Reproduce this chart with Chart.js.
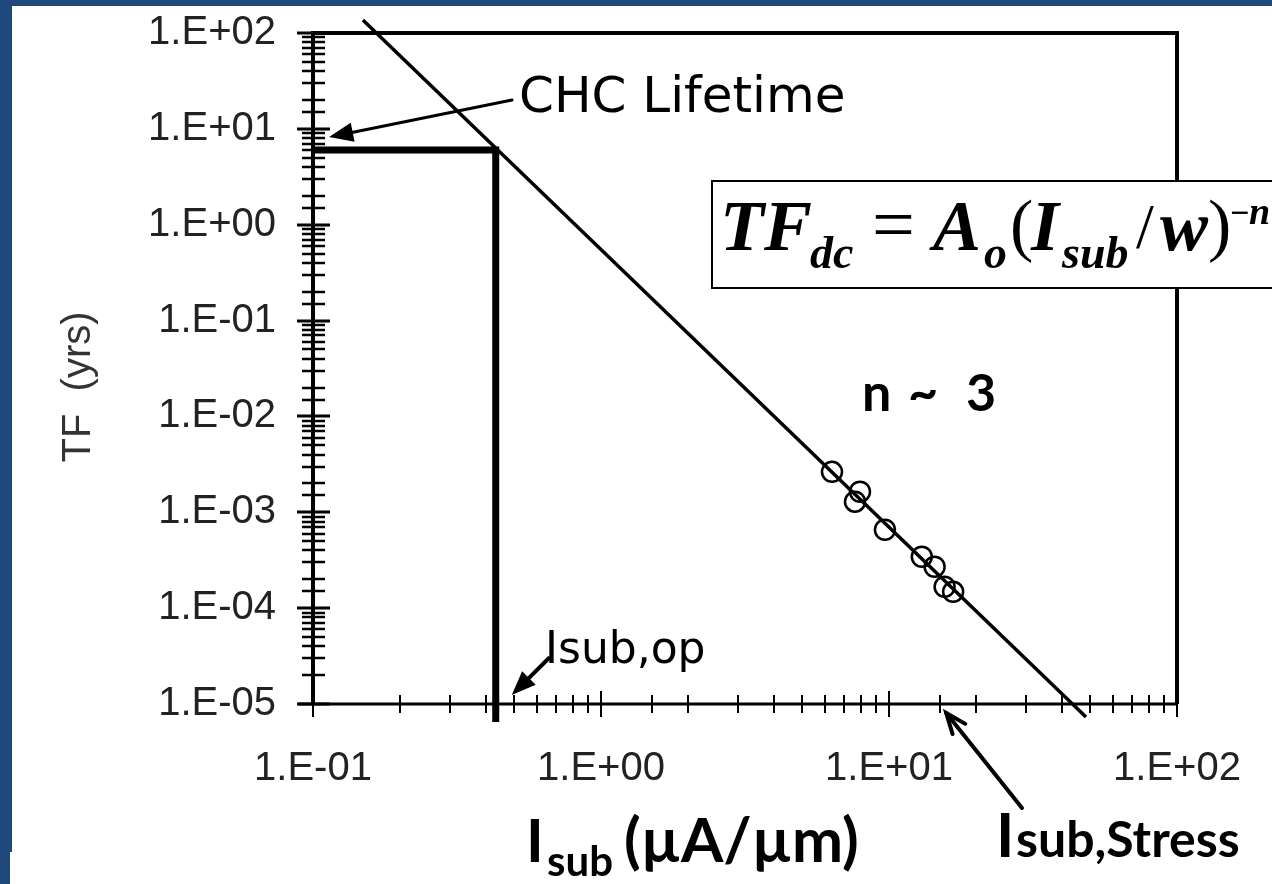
<!DOCTYPE html>
<html>
<head>
<meta charset="utf-8">
<script src="https://cdn.jsdelivr.net/npm/chart.js@4.4.1/dist/chart.umd.min.js"></script>
<style>
	html, body { margin: 0; padding: 0; background: #fff; }
	canvas { display: block; }
</style>
</head>
<body>
<canvas id="myChart" width="1272" height="884"></canvas>
<script>
// measured stress points: substrate current (uA/um) vs time to failure (yrs)
const stressCurrent = [6.34, 7.93, 7.62, 9.68, 13.0, 14.4, 15.6, 16.7];
const stressLifetime = [2.64e-3, 1.64e-3, 1.29e-3, 6.57e-4, 3.44e-4, 2.70e-4, 1.67e-4, 1.48e-4];

// power law fit, drawn past the frame on both ends
const fitCurrent = [0.149, 48.3];
const fitLifetime = [137, 7.3e-6];

// operating point read back from the fit
const opCurrent = [0.1, 0.431, 0.431];
const opLifetime = [6.03, 6.03, 6.5e-6];

const xRange = [0.1, 100];
const yRange = [1e-5, 100];

const isDecade = v => Math.abs(Math.log10(v) - Math.round(Math.log10(v))) < 1e-6;
const sciLabel = v => {
	const e = Math.round(Math.log10(v));
	return '1.E' + (e < 0 ? '-' : '+') + String(Math.abs(e)).padStart(2, '0');
};

const BLUE = '#1f497d';

const arrow = (ctx, x1, y1, x2, y2, w, head, open) => {
	const a = Math.atan2(y2 - y1, x2 - x1);
	ctx.save();
	ctx.strokeStyle = '#000';
	ctx.fillStyle = '#000';
	ctx.lineWidth = w;
	ctx.lineCap = 'round';
	ctx.beginPath();
	ctx.moveTo(x1, y1);
	ctx.lineTo(open ? x2 : x2 - Math.cos(a) * head * 0.8, open ? y2 : y2 - Math.sin(a) * head * 0.8);
	ctx.stroke();
	const hx1 = x2 - Math.cos(a - 0.38) * head, hy1 = y2 - Math.sin(a - 0.38) * head;
	const hx2 = x2 - Math.cos(a + 0.38) * head, hy2 = y2 - Math.sin(a + 0.38) * head;
	ctx.beginPath();
	if (open) {
		ctx.moveTo(hx1, hy1);
		ctx.lineTo(x2, y2);
		ctx.lineTo(hx2, hy2);
		ctx.stroke();
	} else {
		ctx.moveTo(x2, y2);
		ctx.lineTo(hx1, hy1);
		ctx.lineTo(hx2, hy2);
		ctx.closePath();
		ctx.fill();
	}
	ctx.restore();
};

// text pieces, each at its own x and baseline
const pieces = (ctx, parts) => {
	parts.forEach(p => {
		ctx.font = p.font;
		ctx.fillText(p.t, p.x, p.y);
	});
};

const framePlugin = {
	id: 'frame',
	beforeDraw(chart) {
		const ctx = chart.ctx;
		ctx.save();
		ctx.fillStyle = '#fff';
		ctx.fillRect(0, 0, chart.width, chart.height);
		ctx.fillStyle = BLUE;
		ctx.fillRect(0, 0, chart.width, 6);
		ctx.fillRect(0, 0, 12, 852);
		ctx.fillRect(0, 852, 10, chart.height - 852);
		ctx.restore();
	},
	afterDatasetsDraw(chart) {
		const ctx = chart.ctx;
		const { left, right, top, bottom } = chart.chartArea;
		const xs = chart.scales.x, ys = chart.scales.y;
		ctx.save();
		ctx.strokeStyle = '#000';
		// plot frame
		ctx.lineWidth = 4;
		ctx.beginPath();
		ctx.moveTo(left, bottom);
		ctx.lineTo(left, top);
		ctx.lineTo(right, top);
		ctx.lineTo(right, bottom);
		ctx.stroke();
		ctx.lineWidth = 3;
		ctx.beginPath();
		ctx.moveTo(left - 15, bottom);
		ctx.lineTo(right, bottom);
		ctx.stroke();

		// tick marks crossing the axes
		ys.ticks.forEach(t => {
			const y = Math.round(ys.getPixelForValue(t.value));
			const big = isDecade(t.value);
			ctx.lineWidth = big ? 3 : 2.5;
			ctx.beginPath();
			ctx.moveTo(left - (big ? 16 : 11), y);
			ctx.lineTo(left + (big ? 17 : 12), y);
			ctx.stroke();
		});
		xs.ticks.forEach(t => {
			const x = Math.round(xs.getPixelForValue(t.value));
			const big = isDecade(t.value);
			ctx.lineWidth = 2;
			ctx.beginPath();
			ctx.moveTo(x, bottom - (big ? 13 : 9));
			ctx.lineTo(x, bottom + (big ? 13 : 9));
			ctx.stroke();
		});
		ctx.restore();
	},
	afterDraw(chart) {
		const ctx = chart.ctx;
		const { bottom, left } = chart.chartArea;
		const xs = chart.scales.x, ys = chart.scales.y;
		ctx.save();
		ctx.textBaseline = 'alphabetic';

		// y axis title
		ctx.save();
		ctx.translate(79, 387);
		ctx.rotate(-Math.PI / 2);
		ctx.fillStyle = '#333';
		ctx.font = '40px "Liberation Sans", Arial, sans-serif';
		ctx.textAlign = 'center';
		ctx.textBaseline = 'middle';
		ctx.fillText('TF  (yrs)', 0, 0);
		ctx.restore();

		// formula box over the right edge of the frame
		ctx.fillStyle = '#fff';
		ctx.fillRect(712, 181, 600, 107);
		ctx.strokeStyle = '#000';
		ctx.lineWidth = 2;
		ctx.strokeRect(712, 181, 600, 107);
		ctx.fillStyle = '#000';
		const serif = '"Liberation Serif", "Times New Roman", serif';
		const big = 'italic bold 72px ' + serif, sub = 'italic bold 46px ' + serif, thin = '70px ' + serif;
		pieces(ctx, [
			{ t: 'TF', font: big, x: 720, y: 250 },
			{ t: 'dc', font: sub, x: 810, y: 268 },
			{ t: '=', font: '76px ' + serif, x: 872, y: 250 },
			{ t: 'A', font: big, x: 933, y: 250 },
			{ t: 'o', font: sub, x: 984, y: 268 },
			{ t: '(', font: thin, x: 1010, y: 248 },
			{ t: 'I', font: big, x: 1031, y: 250 },
			{ t: 'sub', font: sub, x: 1062, y: 268 },
			{ t: '/', font: '64px ' + serif, x: 1136, y: 248 },
			{ t: 'w', font: big, x: 1160, y: 250 },
			{ t: ')', font: thin, x: 1208, y: 248 },
			{ t: '\u2212', font: 'bold 34px ' + serif, x: 1230, y: 224 },
			{ t: 'n', font: 'italic bold 38px ' + serif, x: 1249, y: 224 }
		]);

		// callouts
		const tahoma = '"DejaVu Sans", Verdana, sans-serif';
		ctx.font = '50px ' + tahoma;
		ctx.fillText('CHC Lifetime', 519, 112);
		arrow(ctx, 512, 100, left + 16, ys.getPixelForValue(8.2), 3, 26, false);

		ctx.font = '44px ' + tahoma;
		ctx.fillText('Isub,op', 545, 663);
		arrow(ctx, 549, 658, xs.getPixelForValue(0.49), bottom - 9, 4, 26, false);

		const lato = 'Lato, "Open Sans", sans-serif';
		pieces(ctx, [
			{ t: 'n', font: 'bold 52px ' + lato, x: 862, y: 411 },
			{ t: '~', font: 'bold 52px ' + lato, x: 908, y: 411 },
			{ t: '3', font: 'bold 52px ' + lato, x: 966, y: 411 }
		]);

		arrow(ctx, 1022, 808, xs.getPixelForValue(15.8), bottom + 9, 4, 22, true);
		pieces(ctx, [
			{ t: 'I', font: 'bold 62px ' + lato, x: 996, y: 857 },
			{ t: 'sub,Stress', font: 'bold 50px ' + lato, x: 1016, y: 857 }
		]);

		// x axis title
		pieces(ctx, [
			{ t: 'I', font: 'bold 60px ' + lato, x: 526, y: 862 },
			{ t: 'sub', font: 'bold 42px ' + lato, x: 547, y: 876 },
			{ t: '(\u00b5A/\u00b5m)', font: 'bold 61px ' + lato, x: 624, y: 862 }
		]);
		ctx.restore();
	}
};

const ctx = document.getElementById('myChart');
const tickFont = { family: '"Liberation Sans", Arial, sans-serif', size: 40 };
// invisible tick marks keep the labels off the axis without padding the layout
const hiddenTicks = len => ({ drawOnChartArea: false, drawTicks: true, tickLength: len, color: 'rgba(0,0,0,0)' });

const myChart = new Chart(ctx, {
	type: 'scatter',
	data: {
		datasets: [{
			label: 'fit',
			data: fitCurrent.map((x, i) => ({ x: x, y: fitLifetime[i] })),
			showLine: true,
			borderColor: '#000',
			borderWidth: 3.5,
			pointRadius: 0,
			clip: false
		}, {
			label: 'operating point',
			data: opCurrent.map((x, i) => ({ x: x, y: opLifetime[i] })),
			showLine: true,
			borderColor: '#000',
			borderWidth: 7,
			borderJoinStyle: 'miter',
			pointRadius: 0,
			clip: false
		}, {
			label: 'stress data',
			data: stressCurrent.map((x, i) => ({ x: x, y: stressLifetime[i] })),
			showLine: false,
			pointStyle: 'circle',
			pointRadius: 10,
			borderWidth: 2.5,
			borderColor: '#000',
			backgroundColor: 'rgba(0,0,0,0)'
		}]
	},
	options: {
		responsive: false,
		animation: false,
		layout: { padding: { left: 12, top: 33, right: 95, bottom: 0 } },
		plugins: {
			legend: { display: false },
			tooltip: { enabled: false }
		},
		scales: {
			x: {
				type: 'logarithmic',
				position: 'bottom',
				min: xRange[0],
				max: xRange[1],
				grid: hiddenTicks(41),
				border: { display: false },
				ticks: {
					autoSkip: false,
					maxRotation: 0,
					padding: 0,
					color: '#222',
					font: tickFont,
					callback: v => isDecade(v) ? sciLabel(v) : ''
				},
				afterFit: s => { s.height = 180; }
			},
			y: {
				type: 'logarithmic',
				position: 'left',
				min: yRange[0],
				max: yRange[1],
				grid: hiddenTicks(37),
				border: { display: false },
				ticks: {
					autoSkip: false,
					padding: 0,
					color: '#222',
					font: tickFont,
					callback: v => isDecade(v) ? sciLabel(v) : ''
				},
				afterFit: s => { s.width = 301; }
			}
		}
	},
	plugins: [framePlugin]
});
</script>
</body>
</html>
